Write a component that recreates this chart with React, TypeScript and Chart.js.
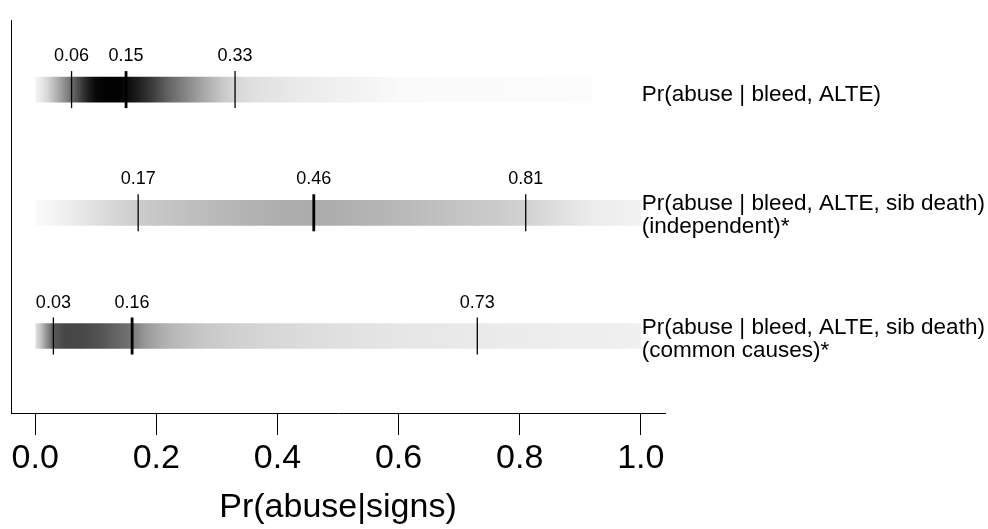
import React, { useEffect, useRef } from "react";
import { Chart, registerables } from "chart.js";

Chart.register(...registerables);

// ---------- data ----------
const rowNames: string[][] = [
  ["Pr(abuse | bleed, ALTE)"],
  ["Pr(abuse | bleed, ALTE, sib death)", "(independent)*"],
  ["Pr(abuse | bleed, ALTE, sib death)", "(common causes)*"],
];
const rowY = [3, 2, 1];
const stripStart = [0, 0, 0];
const stripEnd = [0.92, 1.0, 1.0];
const quantiles = [
  [0.06, 0.15, 0.33],
  [0.17, 0.46, 0.81],
  [0.03, 0.16, 0.73],
];
const medianIndex = 1;
const rowLabelX = 1.0;

const strip1Pos = [0.0, 0.01, 0.02, 0.03, 0.04, 0.05, 0.06, 0.07, 0.08, 0.09, 0.1, 0.12, 0.14, 0.15, 0.17, 0.19, 0.22, 0.25, 0.28, 0.31, 0.33, 0.36, 0.43, 0.5, 0.57, 0.6, 0.75, 0.92];
const strip1Gray = [244, 232, 215, 190, 165, 138, 110, 80, 50, 25, 8, 0, 2, 10, 30, 55, 100, 135, 170, 200, 214, 224, 233, 240, 246, 250, 251, 252];

const strip2Pos = [0.0, 0.03, 0.06, 0.1, 0.14, 0.17, 0.22, 0.28, 0.34, 0.4, 0.46, 0.52, 0.58, 0.64, 0.7, 0.76, 0.81, 0.86, 0.92, 1.0];
const strip2Gray = [250, 244, 236, 224, 212, 204, 196, 188, 180, 174, 172, 176, 182, 189, 196, 203, 210, 222, 236, 242];

const strip3Pos = [0.0, 0.01, 0.02, 0.03, 0.05, 0.08, 0.11, 0.13, 0.15, 0.16, 0.18, 0.2, 0.23, 0.28, 0.33, 0.4, 0.5, 0.6, 0.73, 0.85, 1.0];
const strip3Gray = [228, 190, 140, 90, 70, 72, 85, 98, 110, 120, 150, 168, 185, 200, 208, 216, 224, 230, 234, 237, 240];

const xTicks = [0, 0.2, 0.4, 0.6, 0.8, 1.0];
const xTitle = "Pr(abuse|signs)";

const stripPos = [strip1Pos, strip2Pos, strip3Pos];
const stripGray = [strip1Gray, strip2Gray, strip3Gray];

const FONT = "'Liberation Sans', Arial, Helvetica, sans-serif";

const textPlugin = {
  id: "stripTexts",
  afterDatasetsDraw(chart: any) {
    const { ctx } = chart;
    const xs = chart.scales.x;
    const ys = chart.scales.y;
    ctx.save();
    ctx.fillStyle = "#000";
    ctx.textBaseline = "alphabetic";
    ctx.font = `18px ${FONT}`;
    ctx.textAlign = "center";
    quantiles.forEach((qs, r) => {
      const py = ys.getPixelForValue(rowY[r]);
      qs.forEach((q) => {
        ctx.fillText(q.toFixed(2), xs.getPixelForValue(q), py - 28.5);
      });
    });
    ctx.font = `22.5px ${FONT}`;
    ctx.textAlign = "left";
    rowNames.forEach((lines, r) => {
      const py = ys.getPixelForValue(rowY[r]);
      lines.forEach((t, i) => {
        ctx.fillText(t, xs.getPixelForValue(rowLabelX) + 1, py + 11.5 - (lines.length - 1) * 14 + i * 23);
      });
    });
    ctx.restore();
  },
};

export default function App() {
  const canvasRef = useRef<HTMLCanvasElement | null>(null);

  useEffect(() => {
    const canvas = canvasRef.current;
    if (!canvas) return;
    Chart.defaults.font.family = FONT;

    const stripGradient = (ctx: any) => {
      const chart = ctx.chart;
      const xs = chart.scales?.x;
      const i = ctx.dataIndex;
      if (!xs || !chart.chartArea || i === undefined) return "#ccc";
      const s = stripStart[i];
      const e = stripEnd[i];
      const g = chart.ctx.createLinearGradient(xs.getPixelForValue(s), 0, xs.getPixelForValue(e), 0);
      stripPos[i].forEach((p, k) => {
        const v = stripGray[i][k];
        g.addColorStop(Math.min(1, Math.max(0, (p - s) / (e - s))), `rgb(${v},${v},${v})`);
      });
      return g;
    };

    const markData: { x: number; y: number }[] = [];
    quantiles.forEach((qs, r) => qs.forEach((q) => markData.push({ x: q, y: rowY[r] })));

    const chart = new Chart(canvas, {
      type: "scatter",
      data: {
        datasets: [
          {
            type: "bar",
            indexAxis: "y",
            order: 2,
            data: rowY.map((y, i) => ({ x: [stripStart[i], stripEnd[i]], y })) as any,
            backgroundColor: stripGradient as any,
            borderWidth: 0,
            barThickness: 25,
            grouped: false,
          } as any,
          {
            type: "scatter",
            order: 1,
            data: markData,
            pointStyle: "line",
            pointRotation: 90,
            pointRadius: 18.5,
            pointHoverRadius: 18.5,
            pointBorderColor: "#000",
            pointBackgroundColor: "#000",
            pointBorderWidth: (c: any) => (c.dataIndex % 3 === medianIndex ? 2.8 : 1.3),
            showLine: false,
          } as any,
        ],
      },
      options: {
        animation: false,
        responsive: false,
        devicePixelRatio: 1,
        layout: { autoPadding: false, padding: { left: 11, top: 20, right: 323, bottom: 0 } },
        plugins: { legend: { display: false }, tooltip: { enabled: false } },
        events: [],
        scales: {
          x: {
            type: "linear",
            position: "bottom",
            offset: false,
            min: -0.04,
            max: 1.04,
            afterBuildTicks: (s: any) => {
              s.ticks = xTicks.map((v) => ({ value: v }));
            },
            afterFit: (s: any) => {
              s.height = 116;
            },
            ticks: {
              callback: (v: any) => Number(v).toFixed(1),
              font: { size: 34, family: FONT },
              color: "#000",
              padding: 3,
              maxRotation: 0,
              autoSkip: false,
            },
            grid: {
              display: true,
              offset: false,
              drawOnChartArea: false,
              drawTicks: true,
              tickLength: 22,
              tickColor: "#000",
              tickWidth: 1,
              color: "#000",
            },
            border: { display: true, color: "#000", width: 1 },
            title: {
              display: true,
              text: xTitle,
              color: "#000",
              font: { size: 34, family: FONT },
              padding: { top: 0, bottom: 1 },
            },
          },
          y: {
            type: "linear",
            position: "left",
            offset: false,
            min: 0.375,
            max: 3.565,
            afterFit: (s: any) => {
              s.width = 0;
            },
            ticks: { display: false },
            grid: { display: false, offset: false },
            border: { display: true, color: "#000", width: 1 },
          },
        },
      } as any,
      plugins: [textPlugin],
    });

    return () => chart.destroy();
  }, []);

  return (
    <div style={{ position: "fixed", left: 0, top: 0, width: 988, height: 529, background: "#fff" }}>
      <canvas ref={canvasRef} width={988} height={529} style={{ display: "block" }} />
    </div>
  );
}
